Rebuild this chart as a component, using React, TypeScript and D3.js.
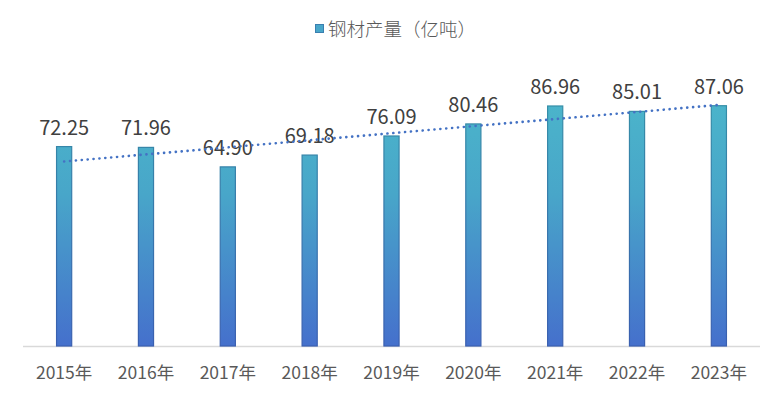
import React, { useRef, useEffect } from 'react';
import * as d3 from 'd3';

const years = ['2015年', '2016年', '2017年', '2018年', '2019年', '2020年', '2021年', '2022年', '2023年'];
const output = [72.25, 71.96, 64.9, 69.18, 76.09, 80.46, 86.96, 85.01, 87.06];
const seriesName = '钢材产量（亿吨）';

const W = 783;
const H = 397;

const App: React.FC = () => {
  const svgRef = useRef<SVGSVGElement | null>(null);

  useEffect(() => {
    const svg = d3.select(svgRef.current);
    svg.selectAll('*').remove();

    const font = '"Noto Sans CJK SC", "Liberation Sans", sans-serif';
    const left = 23;
    const right = 760;
    const bottom = 346;

    const x = d3.scaleBand<string>()
      .domain(years)
      .range([left, right])
      .paddingInner(0.815)
      .paddingOuter(0.41);

    const y = d3.scaleLinear().domain([0, 100]).range([bottom, bottom - 276]);

    const defs = svg.append('defs');
    const grad = defs.append('linearGradient')
      .attr('id', 'barFill')
      .attr('gradientUnits', 'userSpaceOnUse')
      .attr('x1', 0).attr('y1', y(100))
      .attr('x2', 0).attr('y2', bottom);
    grad.append('stop').attr('offset', '0%').attr('stop-color', '#4CB9CB');
    grad.append('stop').attr('offset', '45%').attr('stop-color', '#48A6C9');
    grad.append('stop').attr('offset', '100%').attr('stop-color', '#4570CC');

    const gradStroke = defs.append('linearGradient')
      .attr('id', 'barStroke')
      .attr('gradientUnits', 'userSpaceOnUse')
      .attr('x1', 0).attr('y1', y(100))
      .attr('x2', 0).attr('y2', bottom);
    gradStroke.append('stop').attr('offset', '0%').attr('stop-color', '#3495A6');
    gradStroke.append('stop').attr('offset', '100%').attr('stop-color', '#3A5FB0');

    // legend
    const legend = svg.append('g');
    legend.append('rect')
      .attr('x', 315.5).attr('y', 24.5).attr('width', 8).attr('height', 8)
      .attr('fill', '#48A6C9').attr('stroke', '#3A7FB0').attr('stroke-width', 1);
    legend.append('text')
      .attr('x', 328).attr('y', 35.5)
      .attr('font-family', font).attr('font-size', 18.5)
      .attr('font-weight', 300)
      .attr('fill', '#595959')
      .text(seriesName);

    // axis line
    svg.append('line')
      .attr('x1', left).attr('x2', right)
      .attr('y1', bottom + 0.5).attr('y2', bottom + 0.5)
      .attr('stroke', '#D9D9D9').attr('stroke-width', 1.5);

    // bars
    svg.append('g').selectAll('rect')
      .data(output)
      .enter()
      .append('rect')
      .attr('x', (_, i) => x(years[i])!)
      .attr('y', d => y(d))
      .attr('width', x.bandwidth())
      .attr('height', d => bottom - y(d))
      .attr('fill', 'url(#barFill)')
      .attr('stroke', 'url(#barStroke)')
      .attr('stroke-width', 1.2);

    // data labels
    svg.append('g').selectAll('text')
      .data(output)
      .enter()
      .append('text')
      .attr('x', (_, i) => x(years[i])! + x.bandwidth() / 2)
      .attr('y', d => y(d) - 12)
      .attr('text-anchor', 'middle')
      .attr('font-family', font)
      .attr('font-size', 20)
      .attr('fill', '#404040')
      .text(d => d.toFixed(2));

    // linear trend line
    const n = output.length;
    const mx = (n - 1) / 2;
    const my = d3.mean(output)!;
    let sxy = 0;
    let sxx = 0;
    output.forEach((v, i) => {
      sxy += (i - mx) * (v - my);
      sxx += (i - mx) * (i - mx);
    });
    const slope = sxy / sxx;
    const icpt = my - slope * mx;
    const cx = (i: number) => x(years[i])! + x.bandwidth() / 2;
    svg.append('line')
      .attr('x1', cx(0)).attr('y1', y(icpt))
      .attr('x2', cx(n - 1)).attr('y2', y(icpt + slope * (n - 1)))
      .attr('stroke', '#4472C4')
      .attr('stroke-width', 2.6)
      .attr('stroke-linecap', 'round')
      .attr('stroke-dasharray', '0.1 5.8');

    // category labels
    svg.append('g').selectAll('text')
      .data(years)
      .enter()
      .append('text')
      .attr('x', d => x(d)! + x.bandwidth() / 2)
      .attr('y', 379)
      .attr('text-anchor', 'middle')
      .attr('font-family', font)
      .attr('font-size', 17.5)
      .attr('fill', '#595959')
      .text(d => d);
  }, []);

  return (
    <svg
      ref={svgRef}
      width={W}
      height={H}
      style={{ position: 'absolute', left: 0, top: 0, background: '#fff' }}
    />
  );
};

export default App;
